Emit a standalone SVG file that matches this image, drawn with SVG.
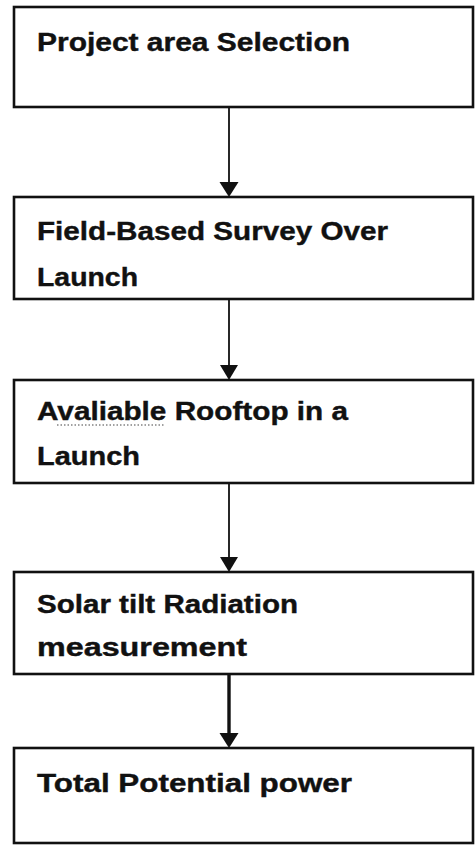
<svg xmlns="http://www.w3.org/2000/svg" width="475" height="847" viewBox="0 0 475 847">
<style>
.box{fill:#fff;stroke:#111;stroke-width:2.6}
.t{font-family:"Liberation Sans",Arial,sans-serif;font-weight:bold;font-size:25px;fill:#111;stroke:#111;stroke-width:0.4}
.c{stroke:#111;stroke-width:1.8;fill:none}
.c2{stroke:#111;stroke-width:3.4;fill:none}
.h{fill:#111}
</style>
<rect width="475" height="847" fill="#fff"/>
<g id="n1">
<rect class="box" x="14" y="7" width="459" height="100"/>
<text class="t" x="37" y="51" textLength="313" lengthAdjust="spacingAndGlyphs">Project area Selection</text>
</g>
<g id="n2">
<rect class="box" x="14" y="197" width="459" height="102"/>
<text class="t" x="37" y="240" textLength="351" lengthAdjust="spacingAndGlyphs">Field-Based Survey Over</text>
<text class="t" x="37" y="286" textLength="101" lengthAdjust="spacingAndGlyphs">Launch</text>
</g>
<g id="n3">
<rect class="box" x="14" y="380" width="459" height="103"/>
<text class="t" x="37" y="420" textLength="311" lengthAdjust="spacingAndGlyphs">Avaliable Rooftop in a</text>
<line x1="57" y1="425" x2="165" y2="425" stroke="#444" stroke-width="1.2" stroke-dasharray="1.5 2"/>
<text class="t" x="37" y="465" textLength="103" lengthAdjust="spacingAndGlyphs">Launch</text>
</g>
<g id="n4">
<rect class="box" x="14" y="572" width="459" height="102"/>
<text class="t" x="37" y="613" textLength="261" lengthAdjust="spacingAndGlyphs">Solar tilt Radiation</text>
<text class="t" x="37" y="656" textLength="210" lengthAdjust="spacingAndGlyphs">measurement</text>
</g>
<g id="n5">
<rect class="box" x="14" y="748" width="459" height="95"/>
<text class="t" x="37" y="792" textLength="315" lengthAdjust="spacingAndGlyphs">Total Potential power</text>
</g>
<g id="connectors">
<line class="c" x1="229" y1="107" x2="229" y2="184"/>
<path class="h" d="M219.5 182 L238.5 182 L229 197 Z"/>
<line class="c" x1="229" y1="299" x2="229" y2="367"/>
<path class="h" d="M220 365 L238 365 L229 380 Z"/>
<line class="c" x1="229" y1="483" x2="229" y2="559"/>
<path class="h" d="M220 557 L238 557 L229 572 Z"/>
<line class="c2" x1="229" y1="674" x2="229" y2="735"/>
<path class="h" d="M219.5 733 L238.5 733 L229 748 Z"/>
</g>
</svg>
